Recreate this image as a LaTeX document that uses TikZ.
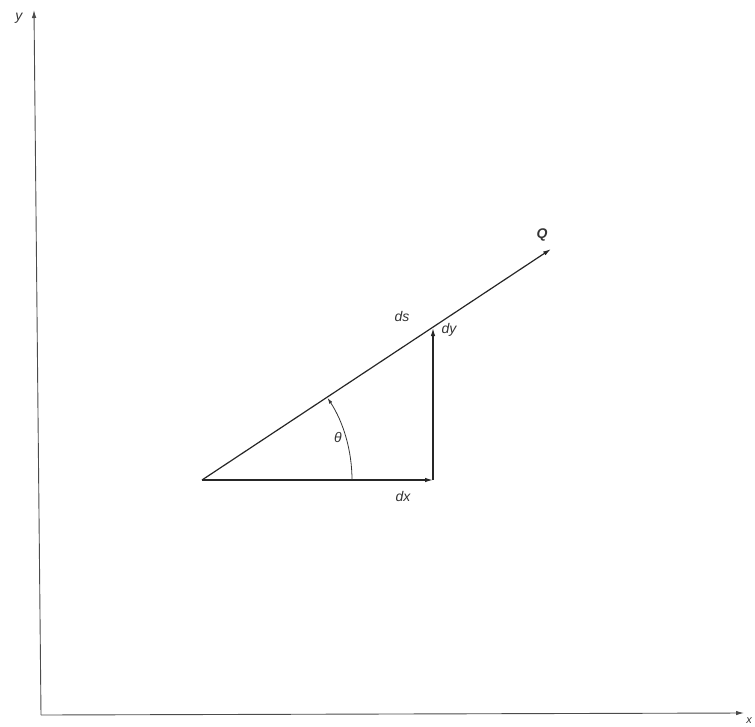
\documentclass[tikz,border=0pt]{standalone}
\usepackage{fontspec}
\setmainfont{Liberation Sans}
\usetikzlibrary{arrows.meta}
\begin{document}
\begin{tikzpicture}[x=1pt,y=-1pt,
  line/.style={line width=1.2pt, draw=black!85},
  axis/.style={line width=0.9pt, draw=black!70},
  tip/.style={-{Latex[length=8pt,width=4.5pt]}},
  lbl/.style={font=\fontsize{14}{14}\selectfont\itshape, text=black!80, inner sep=0pt}]
\useasboundingbox (0,0) rectangle (755,726);
\coordinate (O) at (41,715);
\coordinate (Ytop) at (34,10);
\coordinate (Xend) at (744,713);
\coordinate (A) at (202,480);
\coordinate (B) at (433,480);
\coordinate (C) at (433,328);
\coordinate (Q) at (551,249);
\draw[axis,tip] (O) -- (Ytop);
\draw[axis,tip] (O) -- (Xend);
\node[lbl] (ylab) at (19,18) {y};
\node[lbl, font=\fontsize{11}{11}\selectfont\itshape] (xlab) at (749,721) {x};
\draw[line,tip] (A) -- (B);
\draw[line,tip] (B) -- (C);
\draw[line,tip] (A) -- (Q);
\draw[line width=0.8pt, draw=black!80, -{Latex[length=6pt,width=3.5pt]}] (352,480) arc[start angle=0, end angle=-33.2, radius=150];
\node[lbl] (th) at (338,437) {θ};
\node[lbl] (ds) at (402,316) {ds};
\node[lbl] (dy) at (449,330) {dy};
\node[lbl] (dx) at (403,496) {dx};
\node[lbl, font=\fontsize{14}{14}\selectfont\bfseries\itshape] (q) at (542,235) {Q};
\end{tikzpicture}
\end{document}
